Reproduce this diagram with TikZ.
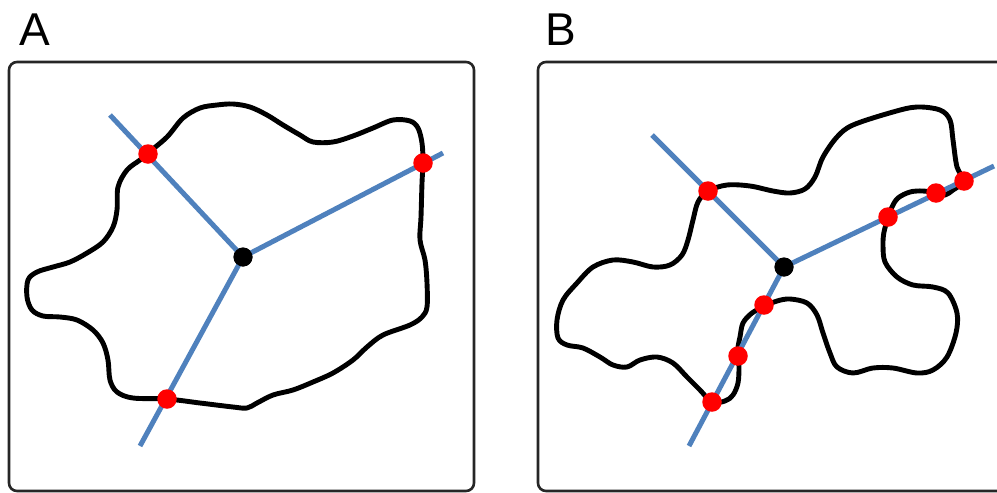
\documentclass[tikz,border=0pt]{standalone}
\usepackage{fontspec}
\setmainfont{Liberation Sans}
\usepackage{tikz}
\usetikzlibrary{calc}
\definecolor{rayline}{HTML}{4F81BD}
\definecolor{hitred}{HTML}{FF0000}
\definecolor{framec}{HTML}{262626}
\tikzset{
  panelframe/.style={draw=framec, line width=2.6pt, rounded corners=8pt},
  panellabel/.style={anchor=base west, inner sep=0pt, font=\fontsize{46}{46}\selectfont},
  blob/.style={draw=black, line width=4.9pt, line join=round},
  ray/.style={draw=rayline, line width=5pt},
  origin/.style={circle, fill=black, inner sep=0pt, minimum size=19pt},
  hit/.style={circle, fill=hitred, inner sep=0pt, minimum size=19.5pt},
}
\begin{document}
\begin{tikzpicture}[x=1pt, y=-1pt]
  \clip (0,0) rectangle (997,493);
  % panel A
  \draw[panelframe] (9,62) rectangle (474,491);
  \node[panellabel] (labA) at (19,45) {A};
  \draw[blob] plot[smooth cycle, tension=0.55] coordinates {
    (148,153) (167,137) (183,118) (200,108) (217,105) (233,104) (250,107)
    (267,115) (283,125) (300,135) (313,142) (333,142) (353,136) (373,128)
    (393,120) (410,121) (418,128) (422,143) (423,162) (422,183) (421,217)
    (420,240) (425,260) (427,283) (427,307) (422,317) (410,325) (383,335)
    (367,347) (353,360) (333,373) (313,382) (293,390) (273,395) (257,403)
    (247,408) (233,407) (200,403) (167,399) (133,398) (117,392) (110,380)
    (108,360) (103,343) (93,330) (77,320) (60,317) (43,316) (32,310)
    (27,297) (28,280) (37,272) (53,267) (70,262) (87,253) (103,242)
    (113,227) (117,210) (118,187) (127,170) (140,160)};
  \node[origin] (oA) at (243,257) {};
  \coordinate (eA1) at (110,115);
  \coordinate (eA2) at (443,153);
  \coordinate (eA3) at (140,446);
  \draw[ray] (oA.center) -- (eA1);
  \draw[ray] (oA.center) -- (eA2);
  \draw[ray] (oA.center) -- (eA3);
  \node[origin] at (oA) {};
  \node[hit] (hA1) at (148,154) {};
  \node[hit] (hA2) at (423,163) {};
  \node[hit] (hA3) at (167,399) {};
  % panel B
  \draw[panelframe] (538,62) rectangle (1010,491);
  \node[panellabel] (labB) at (545,45) {B};
  \draw[blob] plot[smooth cycle, tension=0.55] coordinates {
    (708,191) (727,185) (750,186) (773,191) (790,193) (805,189) (815,177)
    (823,157) (837,137) (853,125) (893,112) (917,107) (940,110) (950,120)
    (953,140) (957,167) (964,181) (953,190) (945,195) (936,193) (923,191)
    (910,192) (898,198) (892,207) (888,218) (884,232) (883,245) (885,262)
    (897,277) (913,285) (933,287) (948,293) (957,313) (956,333) (947,357)
    (933,370) (917,373) (893,368) (873,368) (853,373) (837,367) (830,353)
    (823,333) (817,315) (807,303) (790,299) (777,301) (765,306) (752,313)
    (743,323) (740,337) (738,347) (738,356) (739,367) (738,383) (733,395)
    (725,401) (712,402) (700,390) (687,377) (673,363) (657,357) (640,360)
    (627,367) (613,365) (600,357) (583,348) (567,345) (558,338) (557,320)
    (563,300) (577,283) (593,267) (613,260) (633,262) (653,267) (670,265)
    (682,255) (688,240) (693,220) (698,202)};
  \node[origin] (oB) at (784,267) {};
  \coordinate (eB1) at (652,135);
  \coordinate (eB2) at (994,166);
  \coordinate (eB3) at (689,446);
  \draw[ray] (oB.center) -- (eB1);
  \draw[ray] (oB.center) -- (eB2);
  \draw[ray] (oB.center) -- (eB3);
  \node[origin] at (oB) {};
  \node[hit] (hB1) at (708,191) {};
  \node[hit] (hB2) at (888,217) {};
  \node[hit] (hB3) at (936,193) {};
  \node[hit] (hB4) at (964,181) {};
  \node[hit] (hB5) at (764,305) {};
  \node[hit] (hB6) at (738,356) {};
  \node[hit] (hB7) at (712,402) {};
\end{tikzpicture}
\end{document}
